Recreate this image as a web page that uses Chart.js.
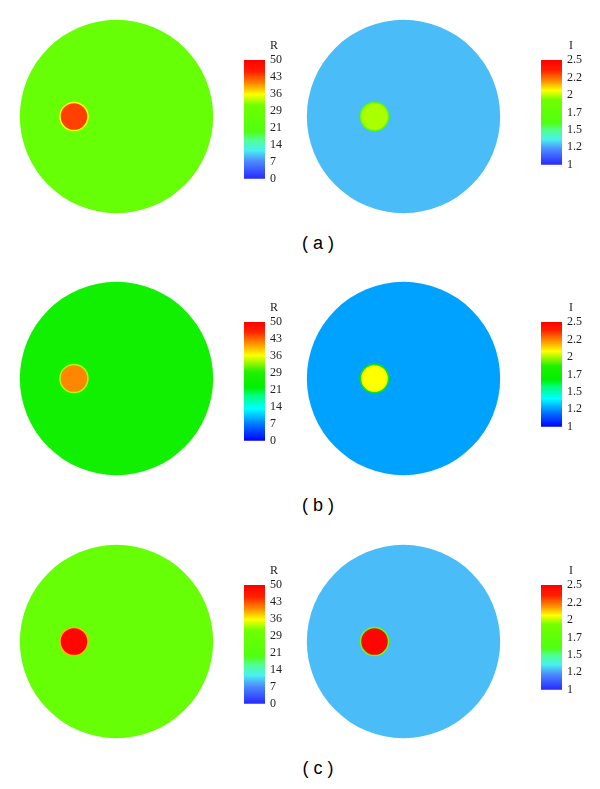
<!DOCTYPE html>
<html>
<head>
<meta charset="utf-8">
<script src="https://cdn.jsdelivr.net/npm/chart.js@4.4.1/dist/chart.umd.min.js"></script>
<style>
  html, body { margin: 0; padding: 0; background: #fff; }
  body { position: relative; width: 600px; height: 789px; overflow: hidden; }
  canvas { position: absolute; }
  .caption {
    position: absolute;
    width: 80px;
    text-align: center;
    font: 18px "Liberation Sans", Arial, sans-serif;
    color: #000;
  }
</style>
</head>
<body>
<script>
// values per panel (a), (b), (c)
const panelLabels = ['( a )', '( b )', '( c )'];
const rBackground = [27.5, 26, 27.5];
const rInclusion = [43.5, 41.4, 49];
const iBackground = [1.29, 1.27, 1.29];
const iInclusion = [1.985, 2.08, 2.48];

// colour scales
const rRange = [0, 50];
const iRange = [1, 2.5];
const rTicks = ['0', '7', '14', '21', '29', '36', '43', '50'];
const iTicks = ['1', '1.2', '1.5', '1.7', '2', '2.2', '2.5'];

// model geometry (domain radius = 1)
const domainRadius = 1;
const inclusionRadius = 0.145;
const rInclusionX = -0.44;
const iInclusionX = -0.30;

// colormaps: (a)/(c) softer, (b) saturated jet
const softStops = [
    [0, '#2828ff'], [0.15, '#4c8cff'], [0.24, '#48f0f0'], [0.33, '#50ff90'],
    [0.40, '#50ff10'], [0.62, '#70ff00'], [0.71, '#ffff00'], [0.80, '#ff8c00'],
    [0.90, '#ff2000'], [1, '#ff0000'],
];
const jetStops = [
    [0, '#0000ff'], [0.14, '#0078ff'], [0.27, '#00ffff'], [0.38, '#00ff80'],
    [0.45, '#00f000'], [0.58, '#20f000'], [0.72, '#ffff00'], [0.82, '#ff9000'],
    [0.92, '#ff2000'], [1, '#ff0000'],
];
const panelStops = [softStops, jetStops, softStops];

// layout
const rowCenters = [116, 378, 641];
const diskCenters = [116, 403];
const diskSize = 203;
const diskExtent = 1.05;

function hexToRgb(h) {
    return [1, 3, 5].map((i) => parseInt(h.slice(i, i + 2), 16));
}

function colorAt(stops, f) {
    const x = Math.min(1, Math.max(0, f));
    for (let i = 1; i < stops.length; i++) {
        if (x <= stops[i][0]) {
            const [f0, c0] = stops[i - 1];
            const [f1, c1] = stops[i];
            const t = (x - f0) / (f1 - f0);
            const a = hexToRgb(c0);
            const b = hexToRgb(c1);
            return `rgb(${a.map((v, k) => Math.round(v + (b[k] - v) * t)).join(',')})`;
        }
    }
    return stops[stops.length - 1][1];
}

function addCanvas(left, top, width, height) {
    const canvas = document.createElement('canvas');
    canvas.width = width;
    canvas.height = height;
    canvas.style.left = left + 'px';
    canvas.style.top = top + 'px';
    canvas.style.width = width + 'px';
    canvas.style.height = height + 'px';
    document.body.appendChild(canvas);
    return canvas;
}

function radiusPx(ctx) {
    const s = ctx.chart.scales.x;
    return Math.abs(s.getPixelForValue(ctx.raw.r) - s.getPixelForValue(0));
}

function makeDisk(canvas, bgValue, inclValue, inclX, range, stops) {
    const frac = (v) => (v - range[0]) / (range[1] - range[0]);
    const rimValue = (bgValue + inclValue) / 2;
    const bg = colorAt(stops, frac(bgValue));

    new Chart(canvas, {
        type: 'scatter',
        data: {
            datasets: [
                {
                    data: [{ x: inclX, y: 0, r: inclusionRadius }],
                    pointBackgroundColor: colorAt(stops, frac(inclValue)),
                    pointBorderColor: colorAt(stops, frac(rimValue)),
                    pointBorderWidth: 1.5,
                    pointRadius: radiusPx,
                    pointHoverRadius: radiusPx,
                },
                {
                    data: [{ x: 0, y: 0, r: domainRadius }],
                    pointBackgroundColor: bg,
                    pointBorderColor: bg,
                    pointBorderWidth: 0,
                    pointRadius: radiusPx,
                    pointHoverRadius: radiusPx,
                },
            ],
        },
        options: {
            responsive: false,
            animation: false,
            events: [],
            clip: false,
            layout: { padding: 0 },
            scales: {
                x: { type: 'linear', min: -diskExtent, max: diskExtent, display: false },
                y: { type: 'linear', min: -diskExtent, max: diskExtent, display: false },
            },
            plugins: { legend: { display: false }, tooltip: { enabled: false } },
        },
    });
}

const barTitle = {
    id: 'barTitle',
    afterDraw(chart, args, opts) {
        const { ctx, chartArea } = chart;
        ctx.save();
        ctx.font = '12px "Liberation Serif", serif';
        ctx.fillStyle = '#222';
        ctx.textAlign = 'center';
        ctx.textBaseline = 'middle';
        ctx.fillText(opts.text, chartArea.right + 9, chartArea.top - 14);
        ctx.restore();
    },
};

function makeColorbar(canvas, range, tickLabels, stops, title) {
    new Chart(canvas, {
        type: 'bar',
        data: {
            labels: [''],
            datasets: [{
                data: [[range[0], range[1]]],
                backgroundColor: (ctx) => {
                    const area = ctx.chart.chartArea;
                    if (!area) {
                        return null;
                    }
                    const g = ctx.chart.ctx.createLinearGradient(0, area.bottom, 0, area.top);
                    stops.forEach(([f, c]) => g.addColorStop(f, c));
                    return g;
                },
                borderWidth: 0,
                borderSkipped: false,
                barPercentage: 1,
                categoryPercentage: 1,
            }],
        },
        options: {
            responsive: false,
            animation: false,
            events: [],
            layout: { padding: { top: 20, bottom: 12, left: 0, right: 0 } },
            scales: {
                x: { display: false },
                y: {
                    position: 'right',
                    min: range[0],
                    max: range[1],
                    grid: { display: false, drawTicks: false },
                    border: { display: false },
                    afterBuildTicks: (scale) => {
                        scale.ticks = tickLabels.map((_, i) => ({
                            value: range[0] + (range[1] - range[0]) * i / (tickLabels.length - 1),
                        }));
                    },
                    afterFit: (scale) => {
                        scale.width = 30;
                    },
                    ticks: {
                        autoSkip: false,
                        padding: 5,
                        color: '#222',
                        font: { family: '"Liberation Serif", serif', size: 12 },
                        callback: (value, index) => tickLabels[index],
                    },
                },
            },
            plugins: {
                legend: { display: false },
                tooltip: { enabled: false },
                barTitle: { text: title },
            },
        },
        plugins: [barTitle],
    });
}

panelLabels.forEach((label, p) => {
    const cy = rowCenters[p];
    const stops = panelStops[p];

    makeDisk(addCanvas(diskCenters[0] - diskSize / 2, cy - diskSize / 2, diskSize, diskSize),
        rBackground[p], rInclusion[p], rInclusionX, rRange, stops);
    makeDisk(addCanvas(diskCenters[1] - diskSize / 2, cy - diskSize / 2, diskSize, diskSize),
        iBackground[p], iInclusion[p], iInclusionX, iRange, stops);

    makeColorbar(addCanvas(244, cy - 56 - 20, 51, 119 + 32), rRange, rTicks, stops, 'R');
    makeColorbar(addCanvas(541, cy - 56 - 20, 51, 105 + 32), iRange, iTicks, stops, 'I');

    const cap = document.createElement('div');
    cap.className = 'caption';
    cap.textContent = label;
    cap.style.left = (318 - 40) + 'px';
    cap.style.top = (cy + 117) + 'px';
    document.body.appendChild(cap);
});
</script>
</body>
</html>
